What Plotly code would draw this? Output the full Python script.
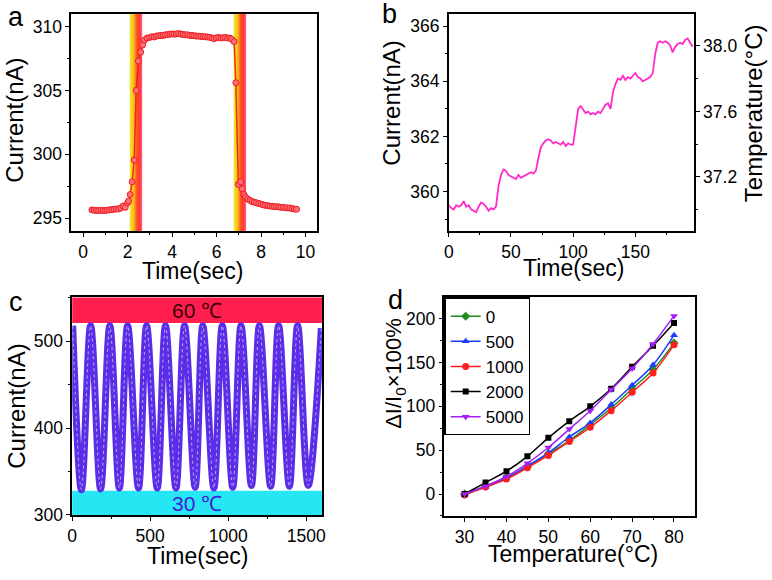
import plotly.graph_objects as go

FONT = "Liberation Sans, Arial, sans-serif"

# ---------------- Panel a ----------------
a_time = [0.4, 0.5, 0.6, 0.7, 0.8, 0.9, 1.0, 1.1, 1.2, 1.3, 1.4, 1.5, 1.6, 1.7, 1.8, 1.9,
          2.0, 2.05, 2.12, 2.21, 2.30, 2.39, 2.49, 2.59, 2.68, 2.77, 2.88,
          3.0, 3.1, 3.2, 3.3, 3.4, 3.5, 3.6, 3.7, 3.8, 3.9, 4.0, 4.1, 4.2, 4.3, 4.4, 4.5,
          4.6, 4.7, 4.8, 4.9, 5.0, 5.1, 5.2, 5.3, 5.4, 5.5, 5.6, 5.7, 5.8, 5.9, 6.0, 6.1,
          6.2, 6.3, 6.4, 6.5, 6.6,
          6.68, 6.79, 6.87, 6.98, 7.08, 7.16, 7.23, 7.3,
          7.4, 7.5, 7.6, 7.7, 7.8, 7.9, 8.0, 8.1, 8.2, 8.3, 8.4, 8.5, 8.6, 8.7, 8.8, 8.9,
          9.0, 9.1, 9.2, 9.3, 9.4, 9.5, 9.6]
a_current = [295.65, 295.62, 295.6, 295.6, 295.62, 295.6, 295.6, 295.63, 295.65, 295.68,
             295.7, 295.72, 295.72, 295.8, 295.95, 295.85,
             296.2, 296.35, 296.85, 297.85, 299.55, 305.0, 307.3, 308.0, 308.55, 308.95, 309.1,
             309.15, 309.2, 309.18, 309.25, 309.28, 309.3, 309.3, 309.35, 309.37, 309.4, 309.42,
             309.4, 309.42, 309.45, 309.4, 309.38, 309.35, 309.35, 309.3, 309.3, 309.28, 309.25,
             309.25, 309.22, 309.2, 309.2, 309.18, 309.15, 309.1, 309.05, 309.12, 309.15,
             309.1, 309.12, 309.15, 309.1, 309.1,
             309.0, 308.82, 305.6, 297.65, 297.85, 297.3, 296.85, 296.65,
             296.5, 296.4, 296.3, 296.25, 296.2, 296.15, 296.1, 296.05, 296.0, 295.98, 295.95,
             295.93, 295.9, 295.9, 295.88, 295.85, 295.85, 295.82, 295.8, 295.8, 295.75,
             295.72, 295.7]
a_band_start = [2.1, 6.77]
a_band_end = [2.66, 7.33]
a_yrange = [294, 311]

# ---------------- Panel b ----------------
b_time = list(range(0, 198, 2))
b_current = [359.5, 359.4, 359.35, 359.5, 359.45, 359.5, 359.65, 359.45, 359.5, 359.35,
             359.3, 359.25, 359.45, 359.6, 359.55, 359.45, 359.3, 359.4, 359.35, 359.45,
             360.2, 360.6, 360.8, 360.75, 360.6, 360.55, 360.5, 360.45, 360.6, 360.5,
             360.55, 360.6, 360.65, 360.7, 360.65, 360.75, 361.2, 361.6, 361.75, 361.85,
             361.9, 361.85, 361.75, 361.8, 361.75, 361.7, 361.8, 361.65, 361.75, 361.7,
             361.7, 362.4, 363.0, 363.1, 362.95, 362.85, 362.9, 362.8, 362.85, 362.8,
             362.9, 362.85, 363.0, 363.15, 363.2, 363.0, 363.6, 363.9, 364.1, 364.05,
             364.2, 364.05, 364.15, 364.1, 364.2, 364.3, 364.15, 364.1, 364.0, 364.05,
             364.1, 364.15, 364.3, 365.0, 365.4, 365.45, 365.4, 365.45, 365.4, 365.3,
             365.05, 365.25, 365.35, 365.4, 365.35, 365.5, 365.55, 365.4, 365.25]
b_temp_ticks = [37.2, 37.6, 38.0]
b_temp_range = [36.87, 38.196]

# ---------------- Panel c ----------------
c_time = [3, 59, 118, 182, 241, 302, 355, 425, 477, 545, 598, 665, 720, 788, 837,
          908, 962, 1029, 1082, 1149, 1200, 1272, 1323, 1392, 1445, 1513, 1597]
c_current = [518, 329, 518, 330, 518, 331, 518, 331, 518, 331, 518, 331, 518, 332, 518,
             331, 518, 332, 518, 334, 518, 333, 518, 333, 518, 334, 515]
c_hot_band = [521, 551]
c_cold_band = [300, 328]
c_labels = ["60 ℃", "30 ℃"]
c_label_pos = [(800, 535), (800, 313)]

# ---------------- Panel d ----------------
d_temp = [30, 35, 40, 45, 50, 55, 60, 65, 70, 75, 80]
d_series = ["0", "500", "1000", "2000", "5000"]
d_0 = [0, 9, 19, 31, 46, 61, 79, 98, 120, 142, 172]
d_500 = [0, 8, 18, 32, 47, 65, 81, 102, 124, 147, 181]
d_1000 = [-1, 8, 17, 30, 44, 60, 76, 95, 116, 138, 170]
d_2000 = [0, 13, 26, 43, 64, 83, 100, 120, 145, 169, 195]
d_5000 = [0, 9, 20, 35, 53, 74, 95, 119, 143, 171, 203]

fig = go.Figure()

# panel a bands (gradient)
for x0, x1 in zip(a_band_start, a_band_end):
    fig.add_trace(go.Scatter(
        x=[x0, x1, x1, x0, x0], y=[a_yrange[0], a_yrange[0], a_yrange[1], a_yrange[1], a_yrange[0]],
        fill="toself", mode="none", showlegend=False, hoverinfo="skip",
        fillgradient=dict(type="horizontal",
                          colorscale=[[0, "#ECEC2C"], [0.3, "#F8C020"], [0.6, "#FF4A1C"],
                                      [0.85, "#FF3A48"], [1, "#FF6A88"]]),
        xaxis="x", yaxis="y"))

fig.add_trace(go.Scatter(
    x=a_time, y=a_current, mode="lines+markers", showlegend=False,
    line=dict(color="#F22A14", width=1.5),
    marker=dict(size=6, color="#FF7070", line=dict(color="#EE1C28", width=1)),
    xaxis="x", yaxis="y"))

# panel b
fig.add_trace(go.Scatter(x=b_time, y=b_current, mode="lines", showlegend=False,
                         line=dict(color="#FF2BC8", width=1.8), xaxis="x2", yaxis="y2"))
# invisible carrier so that the right temperature axis is drawn
fig.add_trace(go.Scatter(x=[b_time[0]], y=[b_temp_ticks[0]], mode="markers", showlegend=False,
                         marker=dict(opacity=0), hoverinfo="skip", xaxis="x2", yaxis="y5"))

# panel c
fig.add_trace(go.Scatter(x=c_time, y=c_current, mode="lines", showlegend=False,
                         line=dict(color="#5B2DE6", width=7, shape="spline", smoothing=1.0),
                         xaxis="x3", yaxis="y3"))
fig.add_trace(go.Scatter(x=c_time, y=c_current, mode="lines", showlegend=False,
                         line=dict(color="#B7A8FA", width=1, shape="spline", smoothing=1.0, dash="dot"),
                         xaxis="x3", yaxis="y3"))

# panel d
d_styles = [
    (d_0, "#1E8C1E", "diamond", 7),
    (d_500, "#1A3CFF", "triangle-up", 7),
    (d_1000, "#FF1F1F", "circle", 7),
    (d_2000, "#000000", "square", 6),
    (d_5000, "#A31FF5", "triangle-down", 7),
]
for name, (vals, col, sym, sz) in zip(d_series, d_styles):
    fig.add_trace(go.Scatter(
        x=d_temp, y=vals, name=name, mode="lines+markers",
        line=dict(color=col, width=1.5, shape="spline"),
        marker=dict(symbol=sym, size=sz, color=col),
        xaxis="x4", yaxis="y4"))

def axis(**kw):
    base = dict(showline=True, linecolor="black", linewidth=1.5, mirror=True,
                ticks="outside", ticklen=4, tickwidth=1.3, tickcolor="black",
                showgrid=False, zeroline=False,
                tickfont=dict(size=17.5, color="black", family=FONT))
    minor = kw.pop("minor_dtick", None)
    if minor is not None:
        base["minor"] = dict(ticks="outside", ticklen=2.5, tickwidth=1.2,
                             tickcolor="black", dtick=minor, showgrid=False)
    base.update(kw)
    return base

fig.update_layout(
    width=772, height=580, margin=dict(l=0, r=0, t=0, b=0),
    paper_bgcolor="white", plot_bgcolor="white",
    font=dict(family=FONT, color="black"),
    xaxis=axis(domain=[0.0868, 0.4093], anchor="y", range=[-0.53, 10.53], dtick=2, tick0=0, minor_dtick=1),
    yaxis=axis(domain=[0.5948, 0.9759], anchor="x", range=a_yrange, dtick=5, tick0=295, minor_dtick=2.5),
    xaxis2=axis(domain=[0.5816, 0.9028], anchor="y2", range=[0, 197], dtick=50, tick0=0, minor_dtick=25),
    yaxis2=axis(domain=[0.5948, 0.9759], anchor="x2", range=[358.57, 366.45], dtick=2, tick0=360, minor_dtick=1),
    yaxis5=axis(overlaying="y2", side="right", anchor="x2", range=b_temp_range,
                tickvals=b_temp_ticks, tickformat=".1f", mirror=False, minor_dtick=0.2),
    xaxis3=axis(domain=[0.0881, 0.4154], anchor="y3", range=[0, 1601], dtick=500, tick0=0, minor_dtick=250),
    yaxis3=axis(domain=[0.0966, 0.4781], anchor="x3", range=[300, 550.5], dtick=100, tick0=300, minor_dtick=50),
    xaxis4=axis(domain=[0.5760, 0.9037], anchor="y4", range=[25.2, 84.9], dtick=10, tick0=30, minor_dtick=5),
    yaxis4=axis(domain=[0.0948, 0.4781], anchor="x4", range=[-25, 224], dtick=50, tick0=0, minor_dtick=25),
    legend=dict(x=0.5760, y=0.4781, xanchor="left", yanchor="top",
                bordercolor="black", borderwidth=1.2, bgcolor="white",
                font=dict(size=17, family=FONT, color="black"),
                tracegroupgap=0, itemwidth=30),
)

# panel c bands
fig.add_shape(type="rect", xref="x3 domain", yref="y3", x0=0, x1=1,
              y0=c_hot_band[0], y1=c_hot_band[1], fillcolor="#FF1E4E", line_width=0, layer="below")
fig.add_shape(type="rect", xref="x3 domain", yref="y3", x0=0, x1=1,
              y0=c_cold_band[0], y1=c_cold_band[1], fillcolor="#26E6F4", line_width=0, layer="below")

fig.add_annotation(x=c_label_pos[0][0], y=c_label_pos[0][1], xref="x3", yref="y3", text=c_labels[0],
                   showarrow=False, font=dict(size=21, color="#3A0008", family=FONT))
fig.add_annotation(x=c_label_pos[1][0], y=c_label_pos[1][1], xref="x3", yref="y3", text=c_labels[1],
                   showarrow=False, font=dict(size=21, color="#3F22D8", family=FONT))

W, H = 772, 580
def ann(text, x, y, size, angle=0):
    fig.add_annotation(x=x / W, y=1 - y / H, xref="paper", yref="paper", text=text,
                       showarrow=False, textangle=angle, xanchor="center", yanchor="middle",
                       borderpad=0, font=dict(size=size, color="black", family=FONT))

# panel letters
ann("a", 11, 17, 27)
ann("b", 389, 14, 27)
ann("c", 11, 307, 27)
ann("d", 395, 305, 27)

# axis titles
ann("Current(nA)", 10, 122, 24, -90)
ann("Time(sec)", 190, 276, 23)
ann("Current(nA)", 391, 105, 24, -90)
ann("Temperature(°C)", 757, 115, 24, -90)
ann("Time(sec)", 575, 273, 23)
ann("Current(nA)", 12, 413, 24, -90)
ann("Time(sec)", 195, 566, 23)
ann("ΔI/I<sub>0</sub>×100%", 395, 380, 22, -90)
ann("Temperature(°C)", 575, 564, 23)

fig.write_html("out.html", config={"displayModeBar": False},
               post_script="document.body.style.margin='0px';document.body.style.overflow='hidden';")
